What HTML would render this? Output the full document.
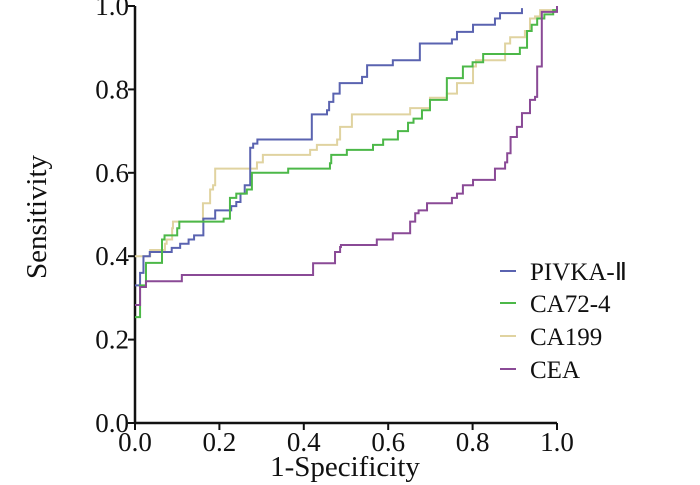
<!DOCTYPE html>
<html><head><meta charset="utf-8"><style>
html,body{margin:0;padding:0;background:#fff;}
svg{display:block;font-family:"Liberation Serif",serif;}
</style></head><body>
<svg id="chart" width="700" height="485">
<g id="axes"></g><g id="series"></g><g id="legend"></g>
</svg>
<script>
const ticks=[0,0.2,0.4,0.6,0.8,1.0];
const tickLabels=["0.0","0.2","0.4","0.6","0.8","1.0"];
const seriesNames=["PIVKA-Ⅱ","CA72-4","CA199","CEA"];
const seriesColors=["#5a63b0","#4cb848","#e0d3a0","#8a4a96"];
const pivkaX=[0,.012,.02,.035,.087,.107,.127,.14,.162,.162,.19,.228,.24,.25,.26,.273,.273,.28,.29,.419,.455,.46,.47,.485,.538,.55,.611,.675,.751,.763,.801,.853,.865,.917];
const pivkaY=[.33,.36,.40,.41,.42,.43,.44,.45,.46,.49,.51,.52,.53,.55,.57,.58,.66,.67,.68,.74,.75,.77,.79,.815,.83,.858,.87,.91,.92,.938,.955,.97,.983,.995];
const ca724X=[0,.012,.026,.064,.07,.1,.105,.197,.21,.225,.225,.24,.265,.277,.277,.363,.462,.465,.502,.564,.588,.623,.647,.66,.68,.699,.739,.739,.777,.8,.825,.882,.912,.929,.94,.953,.97,.991,1];
const ca724Y=[.254,.33,.384,.44,.45,.467,.483,.483,.49,.51,.54,.55,.56,.57,.60,.61,.623,.643,.655,.667,.68,.70,.72,.73,.75,.775,.78,.827,.855,.865,.885,.885,.90,.94,.955,.97,.98,.99,1];
const ca199X=[0,.036,.071,.075,.088,.09,.161,.178,.185,.19,.289,.303,.415,.431,.479,.486,.514,.652,.699,.739,.763,.801,.808,.877,.889,.924,.936,.948,.96,1,1];
const ca199Y=[.40,.415,.43,.44,.467,.483,.527,.56,.57,.61,.625,.643,.655,.667,.68,.71,.74,.755,.78,.79,.815,.855,.87,.91,.925,.94,.97,.975,.99,.99,1];
const ceaX=[0,.012,.026,.111,.422,.474,.486,.488,.573,.611,.652,.664,.672,.692,.751,.763,.777,.801,.853,.877,.882,.89,.905,.917,.936,.948,.953,.964,1];
const ceaY=[.283,.326,.34,.355,.383,.41,.422,.427,.44,.455,.483,.503,.51,.527,.54,.55,.57,.583,.61,.625,.647,.686,.71,.743,.775,.782,.855,.986,1];
const allX=[pivkaX,ca724X,ca199X,ceaX], allY=[pivkaY,ca724Y,ca199Y,ceaY];
const X0=135,X1=557,Y0=423,Y1=6;
const sx=v=>X0+v*(X1-X0), sy=v=>Y0-v*(Y0-Y1);
const NS="http://www.w3.org/2000/svg";
function mk(t,a,p){const e=document.createElementNS(NS,t);for(const k in a)e.setAttribute(k,a[k]);p.appendChild(e);return e;}
const ax=document.getElementById('axes');
let el=mk('line',{x1:X0,y1:Y0,x2:X0,y2:Y1,stroke:'#111','stroke-width':2.5},ax);


el=mk('line',{x1:X0-1,y1:Y0,x2:X1,y2:Y0,stroke:'#111','stroke-width':2.5},ax);


ticks.forEach((t,i)=>{
 let a=mk('line',{x1:X0-7,y1:sy(t),x2:X0,y2:sy(t),stroke:'#111','stroke-width':2},ax);
 
 
 let b=mk('text',{x:X0-6,y:sy(t)+9,'text-anchor':'end','font-size':27,fill:'#111'},ax);b.textContent=tickLabels[i];
 
 
 let c=mk('line',{x1:sx(t),y1:Y0,x2:sx(t),y2:Y0+7,stroke:'#111','stroke-width':2},ax);
 
 
 let d=mk('text',{x:sx(t),y:Y0+28,'text-anchor':'middle','font-size':27,fill:'#111'},ax);d.textContent=tickLabels[i];
 
 
});
el=mk('text',{x:345,y:476,'text-anchor':'middle','font-size':29,fill:'#111'},ax);el.textContent='1-Specificity';


el=mk('text',{x:0,y:0,'text-anchor':'middle','font-size':29,fill:'#111',transform:'translate(46,217) rotate(-90)'},ax);el.textContent='Sensitivity';


const sg=document.getElementById('series'), lg=document.getElementById('legend');
const order=[2,0,1,3];
order.forEach(s=>{
 const xs=allX[s], ys=allY[s];
 let d='M'+sx(xs[0])+','+sy(ys[0]);
 for(let i=1;i<xs.length;i++){d+=' L'+sx(xs[i])+','+sy(ys[i-1])+' L'+sx(xs[i])+','+sy(ys[i]);}
 const p=mk('path',{d:d,fill:'none',stroke:seriesColors[s],'stroke-width':2},sg);
 
 
});
const ly=[271,303,336,369];
seriesNames.forEach((n,i)=>{
 const l=mk('line',{x1:500,y1:ly[i],x2:516,y2:ly[i],stroke:seriesColors[i],'stroke-width':2},lg);
 
 
 const t=mk('text',{x:530,y:ly[i]+9,'font-size':25,fill:'#111'},lg);t.textContent=n;
 
 
});
</script>
</body></html>
